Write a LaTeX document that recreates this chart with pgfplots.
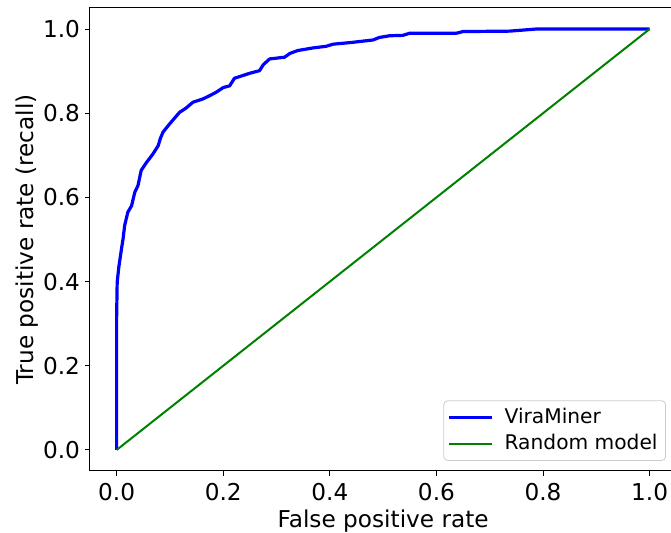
\documentclass[border=0pt]{standalone}
\usepackage{fontspec}
\setmainfont{DejaVu Sans}
\usepackage{pgfplots}
\pgfplotsset{compat=1.18}

\definecolor{mplgreen}{RGB}{0,128,0}

\begin{document}
\begin{tikzpicture}
\begin{axis}[
    scale only axis,
    width=293.15pt,
    height=231.5pt,
    at={(0,0)}, anchor=south west,
    xmin=-0.05, xmax=1.05,
    ymin=-0.05, ymax=1.05,
    xtick={0,0.2,0.4,0.6,0.8,1.0},
    ytick={0,0.2,0.4,0.6,0.8,1.0},
    tick align=outside,
    major tick length=2.5pt,
    tick style={black, line width=0.5pt},
    axis line style={line width=0.5pt},
    tick label style={font=\fontsize{11.6}{14}\selectfont,
        /pgf/number format/fixed, /pgf/number format/fixed zerofill,
        /pgf/number format/precision=1, /pgf/number format/assume math mode=true},
    yticklabel style={xshift=1pt},
    xtick pos=bottom, ytick pos=left,
    label style={font=\fontsize{11.6}{14}\selectfont},
    xlabel={False positive rate},
    ylabel={True positive rate (recall)},
    xlabel style={at={(axis description cs:0.5,0)}, anchor=base, yshift=-28.2pt},
    ylabel style={at={(axis description cs:0,0.5)}, anchor=base, yshift=28pt},
    legend style={at={(rel axis cs:0.9824,0.0216)}, anchor=south east,
        draw=black!20, rounded corners=2pt, fill=white,
        font=\fontsize{10.1}{12}\selectfont,
        inner xsep=2pt, inner ysep=1.8pt, row sep=0pt},
    legend cell align=left,
    legend image code/.code={\draw[#1] (0pt,0pt) -- (21.3pt,0pt); \path (24.8pt,0pt);},
]
% ROC curve of the model
\addplot[blue, line width=1.6pt, line join=round] coordinates {
    (0,0) (0,0.319) (0.001,0.398) (0.004,0.434) (0.009,0.477) (0.012,0.501)
    (0.015,0.533) (0.021,0.565) (0.028,0.580) (0.034,0.612) (0.040,0.628)
    (0.046,0.664) (0.056,0.683) (0.068,0.703) (0.078,0.723) (0.082,0.740)
    (0.087,0.755) (0.099,0.774) (0.118,0.802) (0.130,0.812) (0.143,0.826)
    (0.162,0.834) (0.175,0.842) (0.187,0.850) (0.200,0.861) (0.212,0.865)
    (0.221,0.883) (0.250,0.895) (0.268,0.901) (0.275,0.915) (0.287,0.929)
    (0.315,0.933) (0.325,0.942) (0.340,0.949) (0.368,0.955) (0.393,0.959)
    (0.406,0.964) (0.440,0.968) (0.481,0.974) (0.493,0.980) (0.512,0.984)
    (0.537,0.985) (0.550,0.990) (0.637,0.990) (0.650,0.994) (0.737,0.995)
    (0.787,1.0) (1.0,1.0)
};
% random classifier
\addplot[mplgreen, line width=1pt] coordinates {(0,0) (1,1)};
\legend{ViraMiner, Random model}
\end{axis}
\pgfresetboundingbox
\useasboundingbox (-45pt,-31pt) rectangle (290.5pt,235.5pt);
\end{tikzpicture}
\end{document}
